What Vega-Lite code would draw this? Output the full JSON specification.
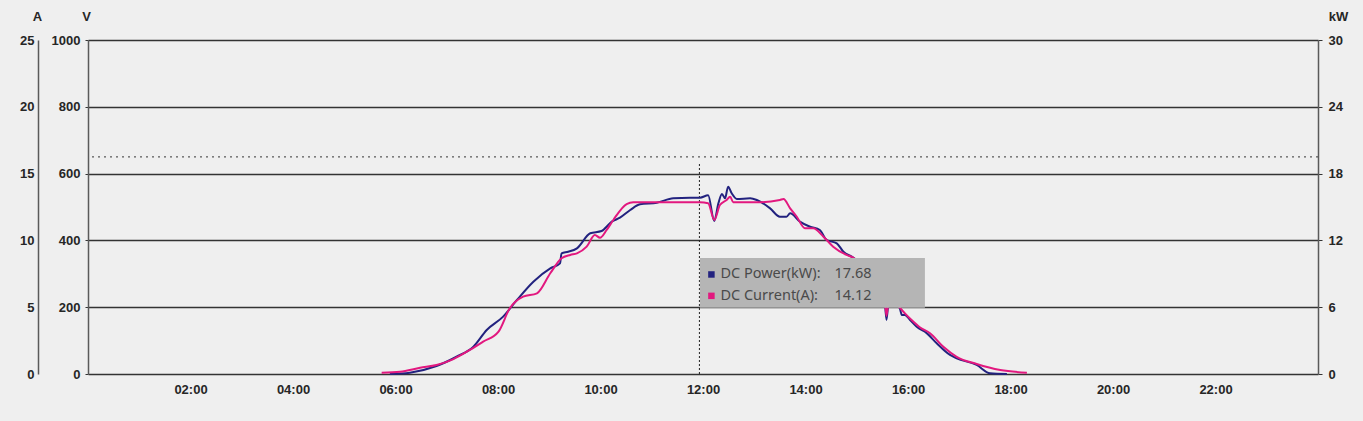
{
  "$schema": "https://vega.github.io/schema/vega-lite/v6.json",
  "width": 1230,
  "height": 334,
  "autosize": {"type": "none"},
  "padding": {"left": 88, "top": 40, "right": 45, "bottom": 47},
  "background": "#efefef",
  "config": {
    "view": {"stroke": null},
    "font": "Liberation Sans",
    "axis": {
      "labelFont": "Liberation Sans",
      "labelFontSize": 13,
      "labelFontWeight": "bold",
      "labelColor": "#262626",
      "titleFont": "Liberation Sans",
      "titleFontSize": 13,
      "titleFontWeight": "bold",
      "titleColor": "#262626",
      "titleAngle": 0,
      "titleBaseline": "middle",
      "titleAlign": "center",
      "domainColor": "#5a5a5a",
      "domainWidth": 1.5,
      "tickColor": "#333333"
    },
    "axisX": {
      "title": null,
      "labelExpr": "(datum.value < 10 ? '0' : '') + datum.value + ':00'",
      "domain": false,
      "ticks": false,
      "tickSize": 0,
      "grid": false,
      "labelPadding": 9
    }
  },
  "datasets": {
    "power": [
      {"hour": 5.89, "kW": 0}, {"hour": 6.28, "kW": 0.12}, {"hour": 6.8, "kW": 0.72},
      {"hour": 7.19, "kW": 1.55}, {"hour": 7.52, "kW": 2.45}, {"hour": 7.78, "kW": 3.95},
      {"hour": 8.1, "kW": 5.15}, {"hour": 8.37, "kW": 6.65}, {"hour": 8.69, "kW": 8.29},
      {"hour": 9.02, "kW": 9.49}, {"hour": 9.21, "kW": 9.94}, {"hour": 9.24, "kW": 10.84},
      {"hour": 9.37, "kW": 10.98}, {"hour": 9.54, "kW": 11.29}, {"hour": 9.8, "kW": 12.64},
      {"hour": 10.02, "kW": 12.84}, {"hour": 10.22, "kW": 13.68}, {"hour": 10.38, "kW": 14.04},
      {"hour": 10.58, "kW": 14.73}, {"hour": 10.77, "kW": 15.24}, {"hour": 11.1, "kW": 15.39},
      {"hour": 11.42, "kW": 15.78}, {"hour": 11.75, "kW": 15.84}, {"hour": 11.94, "kW": 15.84},
      {"hour": 12.1, "kW": 16.05}, {"hour": 12.22, "kW": 13.74}, {"hour": 12.3, "kW": 15.33},
      {"hour": 12.37, "kW": 16.17}, {"hour": 12.43, "kW": 15.78}, {"hour": 12.49, "kW": 16.82},
      {"hour": 12.56, "kW": 16.23}, {"hour": 12.66, "kW": 15.72}, {"hour": 12.92, "kW": 15.78},
      {"hour": 13.05, "kW": 15.63}, {"hour": 13.31, "kW": 14.88}, {"hour": 13.5, "kW": 14.13},
      {"hour": 13.63, "kW": 14.13}, {"hour": 13.7, "kW": 14.43}, {"hour": 13.89, "kW": 13.68},
      {"hour": 14.09, "kW": 13.23}, {"hour": 14.28, "kW": 12.93}, {"hour": 14.41, "kW": 12.04},
      {"hour": 14.61, "kW": 11.74}, {"hour": 14.74, "kW": 10.98}, {"hour": 14.93, "kW": 10.45},
      {"hour": 15.26, "kW": 8.8}, {"hour": 15.53, "kW": 7.46}, {"hour": 15.58, "kW": 4.85},
      {"hour": 15.63, "kW": 6.83}, {"hour": 15.84, "kW": 5.9}, {"hour": 15.88, "kW": 5.3},
      {"hour": 15.94, "kW": 5.3}, {"hour": 16.04, "kW": 4.85}, {"hour": 16.17, "kW": 4.24},
      {"hour": 16.37, "kW": 3.65}, {"hour": 16.56, "kW": 2.76}, {"hour": 16.82, "kW": 1.71},
      {"hour": 16.95, "kW": 1.41}, {"hour": 17.34, "kW": 0.81}, {"hour": 17.6, "kW": 0.06},
      {"hour": 17.93, "kW": 0}
    ],
    "current": [
      {"hour": 5.73, "A": 0.1}, {"hour": 6.09, "A": 0.17}, {"hour": 6.48, "A": 0.47},
      {"hour": 6.8, "A": 0.67}, {"hour": 7.13, "A": 1.12}, {"hour": 7.45, "A": 1.8},
      {"hour": 7.71, "A": 2.42}, {"hour": 8.01, "A": 3.17}, {"hour": 8.23, "A": 4.92},
      {"hour": 8.49, "A": 5.79}, {"hour": 8.76, "A": 6.04}, {"hour": 9.02, "A": 7.54},
      {"hour": 9.24, "A": 8.66}, {"hour": 9.41, "A": 8.91}, {"hour": 9.54, "A": 9.03},
      {"hour": 9.73, "A": 9.53}, {"hour": 9.89, "A": 10.4}, {"hour": 9.99, "A": 10.2},
      {"hour": 10.12, "A": 10.78}, {"hour": 10.25, "A": 11.53}, {"hour": 10.51, "A": 12.72},
      {"hour": 10.64, "A": 12.85}, {"hour": 11.1, "A": 12.85}, {"hour": 11.94, "A": 12.85},
      {"hour": 12.1, "A": 12.78}, {"hour": 12.22, "A": 11.53}, {"hour": 12.33, "A": 12.65},
      {"hour": 12.46, "A": 13.02}, {"hour": 12.53, "A": 13.27}, {"hour": 12.59, "A": 12.85},
      {"hour": 13.05, "A": 12.85}, {"hour": 13.5, "A": 13.02}, {"hour": 13.57, "A": 13.1},
      {"hour": 13.7, "A": 12.4}, {"hour": 13.83, "A": 11.77}, {"hour": 13.99, "A": 10.91},
      {"hour": 14.15, "A": 10.91}, {"hour": 14.35, "A": 10.28}, {"hour": 14.54, "A": 9.53},
      {"hour": 14.8, "A": 8.91}, {"hour": 14.93, "A": 8.71}, {"hour": 15.26, "A": 7.34},
      {"hour": 15.53, "A": 6.21}, {"hour": 15.58, "A": 4.34}, {"hour": 15.63, "A": 5.69},
      {"hour": 15.88, "A": 4.79}, {"hour": 15.94, "A": 4.54}, {"hour": 16.07, "A": 4.04},
      {"hour": 16.23, "A": 3.5}, {"hour": 16.43, "A": 3.05}, {"hour": 16.69, "A": 2.04},
      {"hour": 16.95, "A": 1.29}, {"hour": 17.34, "A": 0.75}, {"hour": 17.8, "A": 0.3},
      {"hour": 18.32, "A": 0.1}
    ],
    "hover": [
      {"series": "DC Power(kW):", "reading": "17.68", "hour": 11.93, "volt": 298},
      {"series": "DC Current(A):", "reading": "14.12", "hour": 11.93, "volt": 234}
    ]
  },
  "layer": [
    {
      "data": {"values": [{"volt": 650}]},
      "mark": {"type": "rule", "color": "#333333", "strokeDash": [2, 4], "strokeWidth": 1},
      "encoding": {
        "y": {
          "field": "volt",
          "type": "quantitative",
          "scale": {"domain": [0, 1000], "nice": false},
          "axis": {
            "orient": "left",
            "title": "V",
            "titleX": -2,
            "titleY": -24,
            "values": [0, 200, 400, 600, 800, 1000],
            "format": "d",
            "grid": true,
            "gridColor": "#333333",
            "gridWidth": 1.4,
            "gridOpacity": 1,
            "ticks": true,
            "tickSize": 3,
            "labelPadding": 5
          }
        }
      }
    },
    {
      "data": {"values": [{"hour": 11.93}]},
      "mark": {"type": "rule", "color": "#222222", "strokeDash": [2, 2], "strokeWidth": 1},
      "encoding": {
        "x": {
          "field": "hour",
          "type": "quantitative",
          "scale": {"domain": [0, 24], "nice": false},
          "axis": {"values": [2, 4, 6, 8, 10, 12, 14, 16, 18, 20, 22]}
        },
        "y": {"datum": 0, "type": "quantitative", "scale": {"domain": [0, 1000], "nice": false}, "axis": null},
        "y2": {"datum": 633}
      }
    },
    {
      "data": {"name": "power"},
      "mark": {"type": "line", "color": "#22227f", "strokeWidth": 2, "interpolate": "monotone"},
      "encoding": {
        "x": {
          "field": "hour",
          "type": "quantitative",
          "scale": {"domain": [0, 24], "nice": false},
          "axis": {"values": [2, 4, 6, 8, 10, 12, 14, 16, 18, 20, 22]}
        },
        "y": {
          "field": "kW",
          "type": "quantitative",
          "scale": {"domain": [0, 30], "nice": false},
          "axis": {
            "orient": "right",
            "title": "kW",
            "titleX": 20,
            "titleY": -24,
            "values": [0, 6, 12, 18, 24, 30],
            "grid": false,
            "ticks": true,
            "tickSize": 4,
            "labelPadding": 6
          }
        }
      }
    },
    {
      "data": {"name": "current"},
      "mark": {"type": "line", "color": "#e2187f", "strokeWidth": 2, "interpolate": "monotone"},
      "encoding": {
        "x": {
          "field": "hour",
          "type": "quantitative",
          "scale": {"domain": [0, 24], "nice": false},
          "axis": {"values": [2, 4, 6, 8, 10, 12, 14, 16, 18, 20, 22]}
        },
        "y": {
          "field": "A",
          "type": "quantitative",
          "scale": {"domain": [0, 25], "nice": false},
          "axis": {
            "orient": "left",
            "offset": 50,
            "title": "A",
            "titleX": -1,
            "titleY": -24,
            "values": [0, 5, 10, 15, 20, 25],
            "grid": false,
            "ticks": false,
            "tickSize": 0,
            "labelPadding": 4
          }
        }
      }
    },
    {
      "data": {"values": [{"box": "tooltip"}]},
      "mark": {"type": "rect", "color": "#b5b5b5"},
      "encoding": {
        "x": {
          "datum": 11.94,
          "type": "quantitative",
          "scale": {"domain": [0, 24], "nice": false},
          "axis": {"values": [2, 4, 6, 8, 10, 12, 14, 16, 18, 20, 22]}
        },
        "x2": {"datum": 16.33},
        "y": {"datum": 198, "type": "quantitative", "scale": {"domain": [0, 1000], "nice": false}, "axis": null},
        "y2": {"datum": 347}
      }
    },
    {
      "data": {"name": "hover"},
      "encoding": {
        "x": {
          "field": "hour",
          "type": "quantitative",
          "scale": {"domain": [0, 24], "nice": false},
          "axis": {"values": [2, 4, 6, 8, 10, 12, 14, 16, 18, 20, 22]}
        },
        "y": {"field": "volt", "type": "quantitative", "scale": {"domain": [0, 1000], "nice": false}, "axis": null}
      },
      "layer": [
        {
          "mark": {"type": "point", "shape": "square", "filled": true, "size": 42, "opacity": 1, "xOffset": 12},
          "encoding": {
            "color": {
              "field": "series",
              "type": "nominal",
              "scale": {"domain": ["DC Power(kW):", "DC Current(A):"], "range": ["#22227f", "#e2187f"]},
              "legend": null
            }
          }
        },
        {
          "mark": {"type": "text", "align": "left", "baseline": "middle", "dx": 21, "font": "Noto Sans", "fontSize": 14.5, "color": "#4a4a4a"},
          "encoding": {"text": {"field": "series"}}
        },
        {
          "mark": {"type": "text", "align": "left", "baseline": "middle", "dx": 135, "font": "Noto Sans", "fontSize": 14.5, "color": "#4a4a4a"},
          "encoding": {"text": {"field": "reading"}}
        }
      ]
    }
  ],
  "resolve": {"scale": {"y": "independent"}, "axis": {"y": "independent"}}
}
